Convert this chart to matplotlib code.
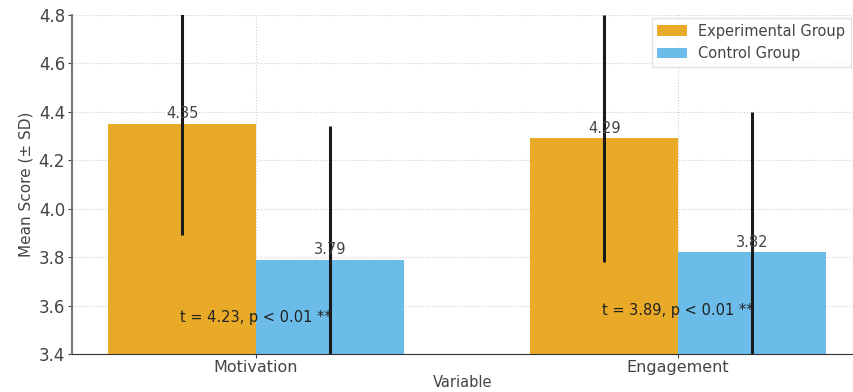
import numpy as np
import matplotlib
matplotlib.use("Agg")
import matplotlib.pyplot as plt

variables = ["Motivation", "Engagement"]
exp_means = [4.35, 4.29]
ctrl_means = [3.79, 3.82]
exp_sd = [0.46, 0.51]
ctrl_sd = [0.55, 0.58]
t_labels = ["t = 4.23, p < 0.01 **", "t = 3.89, p < 0.01 **"]

orange = "#E9AB27"
blue = "#6CBCEA"

fig = plt.figure(figsize=(8.54, 3.92), dpi=100)
ax = fig.add_axes([0.0843, 0.097, 0.9157, 0.865])

x = np.arange(len(variables))
w = 0.35
ax.bar(x - w / 2, exp_means, w, color=orange, label="Experimental Group", zorder=2)
ax.bar(x + w / 2, ctrl_means, w, color=blue, label="Control Group", zorder=2)
ax.errorbar(x - w / 2, exp_means, yerr=exp_sd, fmt="none", ecolor="#1a1a1a",
            elinewidth=2.2, capsize=0, zorder=3)
ax.errorbar(x + w / 2, ctrl_means, yerr=ctrl_sd, fmt="none", ecolor="#1a1a1a",
            elinewidth=2.2, capsize=0, zorder=3)

for i in range(len(variables)):
    ax.text(x[i] - w / 2, exp_means[i] + 0.01, f"{exp_means[i]:.2f}", ha="center",
            va="bottom", fontsize=10.5, color="#444444", zorder=4)
    ax.text(x[i] + w / 2, ctrl_means[i] + 0.01, f"{ctrl_means[i]:.2f}", ha="center",
            va="bottom", fontsize=10.5, color="#444444", zorder=4)
    ax.text(x[i], min(exp_means[i], ctrl_means[i]) - 0.24, t_labels[i], ha="center",
            va="center", fontsize=10.5, color="#222222", zorder=4)

ax.set_ylim(3.4, 4.8)
ax.set_xlim(-0.436, 1.417)
ax.set_yticks(np.arange(3.4, 4.81, 0.2))
ax.set_xticks(x)
ax.set_xticklabels(variables)
ax.tick_params(labelsize=12, colors="#444444", length=3, pad=2)
ax.tick_params(axis="x", labelsize=11.5, pad=1)
ax.set_ylabel("Mean Score (± SD)", fontsize=11, color="#444444", labelpad=4)
ax.set_xlabel("Variable", fontsize=10.5, color="#444444", labelpad=0)
ax.grid(True, linestyle=":", color="#cccccc", linewidth=0.8, zorder=0)
ax.set_axisbelow(True)
for s in ["top", "right"]:
    ax.spines[s].set_visible(False)
ax.spines["left"].set_color("#777777")
ax.spines["bottom"].set_color("#333333")
ax.spines["left"].set_linewidth(1.5)

ax.legend(loc="upper right", fontsize=10.5, frameon=True, edgecolor="#dddddd",
          fancybox=False, labelcolor="#444444", borderaxespad=0.2)

fig.savefig("out.png", dpi=100)
